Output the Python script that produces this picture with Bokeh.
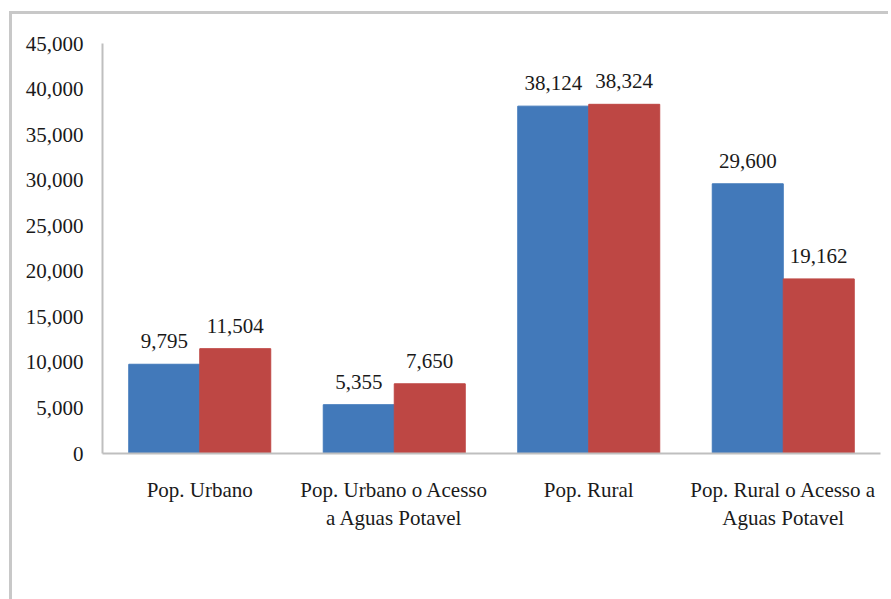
from bokeh.plotting import figure
from bokeh.models import ColumnDataSource, FactorRange, Range1d, Legend, LegendItem, NumeralTickFormatter, FixedTicker
from bokeh.transform import dodge
from bokeh.core.properties import value
from bokeh.embed import file_html
from bokeh.resources import INLINE

categories = ["Pop. Urbano", "Pop. Urbano o Acesso\na Aguas Potavel", "Pop. Rural",
              "Pop. Rural o Acesso a\nAguas Potavel"]
values_2015 = [9795, 5355, 38124, 29600]
values_2016 = [11504, 7650, 38324, 19162]
series_names = ["2015", "2016"]
y_ticks = [0, 5000, 10000, 15000, 20000, 25000, 30000, 35000, 40000, 45000]

BLUE = "#4279BA"
RED = "#BE4744"
FONT = "Liberation Serif"
TXT = "#1a1a1a"
AX = "#bfbfbf"

src = ColumnDataSource(data=dict(
    cat=categories,
    v2015=values_2015,
    v2016=values_2016,
    l2015=[f"{v:,}" for v in values_2015],
    l2016=[f"{v:,}" for v in values_2016],
))

p = figure(frame_width=778, frame_height=410, x_range=FactorRange(*categories, range_padding=0),
           y_range=Range1d(0, 45000), output_backend="svg", toolbar_location=None,
           min_border_left=90, min_border_top=29, min_border_right=8, min_border_bottom=10)
p.styles = {"border-left": "3px solid #c8c8c8", "border-top": "3px solid #c8c8c8",
            "margin-left": "9px", "margin-top": "11px"}
p.outline_line_color = None
p.xgrid.grid_line_color = None
p.ygrid.grid_line_color = None

w = 0.365
r1 = p.vbar(x=dodge("cat", -w / 2, range=p.x_range), top="v2015", width=w, source=src,
            fill_color=BLUE, line_color=BLUE)
r2 = p.vbar(x=dodge("cat", w / 2, range=p.x_range), top="v2016", width=w, source=src,
            fill_color=RED, line_color=RED)

for off, col, lab in [(-w / 2, "v2015", "l2015"), (w / 2, "v2016", "l2016")]:
    p.text(x=dodge("cat", off, range=p.x_range), y=col, text=lab, source=src,
           text_align="center", text_baseline="bottom", y_offset=-16,
           text_font=value(FONT), text_font_size="21px", text_color=TXT)

p.yaxis.ticker = FixedTicker(ticks=y_ticks)
p.yaxis.formatter = NumeralTickFormatter(format="0,0")
for ax in (p.xaxis, p.yaxis):
    ax.axis_line_color = AX
    ax.axis_line_width = 2
    ax.major_tick_line_color = None
    ax.minor_tick_line_color = None
    ax.major_label_text_font = FONT
    ax.major_label_text_font_size = "21px"
    ax.major_label_text_color = TXT
p.yaxis.major_label_standoff = 13
p.xaxis.major_label_standoff = 18

legend = Legend(items=[LegendItem(label=series_names[0], renderers=[r1]),
                       LegendItem(label=series_names[1], renderers=[r2])],
                orientation="horizontal", location="center",
                label_text_font=FONT, label_text_font_size="21px", label_text_color=TXT,
                glyph_width=13, glyph_height=13, spacing=6, label_standoff=3,
                border_line_color=None, background_fill_alpha=0, margin=22, padding=0)
p.add_layout(legend, "below")

open("out.html", "w").write(file_html(p, INLINE))
